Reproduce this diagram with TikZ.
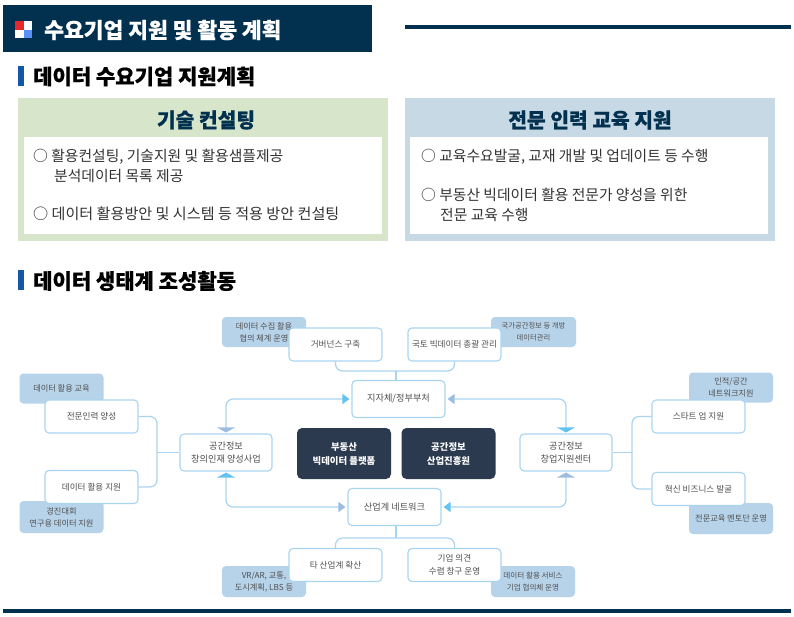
\documentclass[tikz,border=0pt]{standalone}
\usepackage{fontspec}
\setmainfont{Noto Sans CJK KR}
\newfontfamily\heavyfont[BoldFeatures={FakeBold=0.5}]{Noto Sans CJK KR}
\usetikzlibrary{arrows.meta,calc}
\definecolor{navy}{HTML}{02304F}
\definecolor{darkbox}{HTML}{2B3A4F}
\definecolor{tagblue}{HTML}{B7D3EA}
\definecolor{linkblue}{HTML}{A9D4F0}
\definecolor{panelgreen}{HTML}{D7E5CB}
\definecolor{panelblue}{HTML}{C6D9E5}
\definecolor{tipcyan}{HTML}{62C3F2}
\definecolor{tipslate}{HTML}{9DBDE0}
\definecolor{txtgray}{HTML}{505050}
\definecolor{markblue}{HTML}{1457A8}
\definecolor{iconred}{HTML}{E8262E}
\definecolor{iconblue}{HTML}{5B8FF9}
\tikzset{
  x=1pt,y=-1pt,
  whitebox/.style={draw=linkblue,line width=1.1pt,fill=white,rounded corners=4pt,minimum width=93pt,minimum height=33pt,inner sep=0pt,align=center,text=txtgray,font=\fontsize{8.6}{12.5}\selectfont},
  hubbox/.style={whitebox,minimum height=37pt,font=\fontsize{9.2}{13.5}\selectfont},
  tagbox/.style={fill=tagblue,rounded corners=4pt,minimum width=84pt,minimum height=30pt,inner sep=0pt,align=center,text=txtgray,font=\fontsize{8.2}{12}\selectfont},
  darkbox/.style={fill=darkbox,rounded corners=5pt,minimum width=94pt,minimum height=51pt,inner sep=0pt,align=center,text=white,font=\bfseries\fontsize{9.4}{14}\selectfont},
  link/.style={draw=linkblue,line width=1.2pt,rounded corners=7pt},
  heading/.style={anchor=west,inner sep=0pt,font=\heavyfont\bfseries\fontsize{21}{24}\selectfont,text=black},
  paneltitle/.style={inner sep=0pt,font=\heavyfont\bfseries\fontsize{20.3}{24}\selectfont,text=navy},
  bodytext/.style={anchor=west,inner sep=0pt,align=left,font=\fontsize{14.8}{20}\selectfont,text=black!80},
}
\begin{document}
\begin{tikzpicture}
\useasboundingbox (0,0) rectangle (794,616);
\fill[white] (0,0) rectangle (794,616);
% header
\fill[navy] (3,5) rectangle (372,52);
\fill[iconred] (15,21) rectangle (24,29.5);
\fill[white] (24,21) rectangle (32,29.5);
\fill[white] (15,29.5) rectangle (24,38);
\fill[iconblue] (24,29.5) rectangle (32,38);
\node[heading,text=white,font=\heavyfont\bfseries\fontsize{21.5}{24}\selectfont] (title) at (44,30) {수요기업 지원 및 활동 계획};
\fill[navy] (405,25) rectangle (791,29);
\fill[navy] (3,609) rectangle (791,613);
% section 1
\fill[markblue] (18,66) rectangle (24,86);
\node[heading] (sec1) at (33,76.5) {데이터 수요기업 지원계획};
\fill[panelgreen] (18,98) rectangle (388,241);
\fill[white] (24,137) rectangle (382,234);
\node[paneltitle] (p1) at (206,120) {기술 컨설팅};
\node[bodytext] (a1) at (33,156.5) {○ 활용컨설팅, 기술지원 및 활용샘플제공};
\node[bodytext] (a2) at (54,176) {분석데이터 목록 제공};
\node[bodytext,font=\fontsize{15.1}{20}\selectfont] (a3) at (33,214) {○ 데이터 활용방안 및 시스템 등 적용 방안 컨설팅};
\fill[panelblue] (405,98) rectangle (775,241);
\fill[white] (410,137) rectangle (768,234);
\node[paneltitle] (p2) at (590,120) {전문 인력 교육 지원};
\node[bodytext] (b1) at (421,156.5) {○ 교육수요발굴, 교재 개발 및 업데이트 등 수행};
\node[bodytext] (b2) at (421,195) {○ 부동산 빅데이터 활용 전문가 양성을 위한};
\node[bodytext] (b3) at (440,215) {전문 교육 수행};
% section 2
\fill[markblue] (18,270) rectangle (24,290);
\node[heading] (sec2) at (33,281) {데이터 생태계 조성활동};
% tags
\node[tagbox] (t1) at (264,332) {데이터 수집 활용\\협의 체계 운영};
\node[tagbox,minimum width=85pt,font=\fontsize{7.3}{12}\selectfont] (t2) at (533.5,332) {국가공간정보 등 개방\\데이터관리};
\node[tagbox] (t3) at (61.5,388.5) {데이터 활용 교육};
\node[tagbox,minimum height=32pt] (t4) at (61.5,517) {경진대회\\연구용 데이터 지원};
\node[tagbox] (t5) at (731,387.5) {인적/공간\\네트워크지원};
\node[tagbox,minimum height=31pt] (t6) at (731,518.5) {전문교육 멘토단 운영};
\node[tagbox,minimum height=31pt] (t7) at (264,581.5) {VR/AR, 교통,\\도시계획, LBS 등};
\node[tagbox,minimum height=31pt,font=\fontsize{7.6}{12}\selectfont] (t8) at (533,581.5) {데이터 활용 서비스\\기업 협의체 운영};
% white boxes
\node[whitebox] (gov) at (335.5,344.5) {거버넌스 구축};
\node[whitebox] (land) at (454.5,344.5) {국토 빅데이터 총괄 관리};
\node[hubbox] (hubtop) at (398.5,399) {지자체/정부부처};
\node[hubbox] (hubbot) at (394.5,507) {산업계 네트워크};
\node[whitebox] (other) at (335.5,565) {타 산업계 확산};
\node[whitebox] (firm) at (454.5,565) {기업 의견\\수렴 창구 운영};
\node[hubbox,minimum width=92pt] (left) at (226,452.5) {공간정보\\창의인재 양성사업};
\node[hubbox,minimum width=92pt] (right) at (566,452.5) {공간정보\\창업지원센터};
\node[whitebox] (l1) at (91.5,416.5) {전문인력 양성};
\node[whitebox] (l2) at (91.5,487) {데이터 활용 지원};
\node[whitebox] (r1) at (698.5,416.5) {스타트 업 지원};
\node[whitebox] (r2) at (698.5,489) {혁신 비즈니스 발굴};
\node[darkbox] (d1) at (344,453.5) {부동산\\빅데이터 플랫폼};
\node[darkbox] (d2) at (448.5,453.5) {공간정보\\산업진흥원};
% junctions
\coordinate (jt) at (396,371);
\coordinate (jb) at (396,538);
\coordinate (jl) at (157,452.5);
\coordinate (jr) at (632,452.5);
% brackets
\draw[link] (gov.south) |- (jt) -| (land.south);
\draw[link,rounded corners=0pt] (jt) -- (jt |- hubtop.north);
\draw[link,rounded corners=0pt] (hubbot.south -| jb) -- (jb);
\draw[link] (other.north) |- (jb) -| (firm.north);
\draw[link] (l1.east) -| (jl) |- (l2.east);
\draw[link,rounded corners=0pt] (jl) -- (left.west);
\draw[link] (r1.west) -| (jr) |- (r2.west);
\draw[link,rounded corners=0pt] (jr) -- (right.east);
% arrows between hubs
\draw[link,shorten <=2pt,shorten >=1pt,{Triangle[length=7pt,width=10pt,color=tipcyan]}-{Triangle[length=5pt,width=18pt,color=tipslate]}] (hubtop.west) -| (left.north);
\draw[link,shorten <=2pt,shorten >=1pt,{Triangle[length=7pt,width=10pt,color=tipslate]}-{Triangle[length=5pt,width=18pt,color=tipcyan]}] (hubbot.west) -| (left.south);
\draw[link,shorten <=2pt,shorten >=1pt,{Triangle[length=7pt,width=10pt,color=tipslate]}-{Triangle[length=5pt,width=18pt,color=tipcyan]}] (hubtop.east) -| (right.north);
\draw[link,shorten <=2pt,shorten >=1pt,{Triangle[length=7pt,width=10pt,color=tipcyan]}-{Triangle[length=5pt,width=18pt,color=tipslate]}] (hubbot.east) -| (right.south);
\end{tikzpicture}
\end{document}
